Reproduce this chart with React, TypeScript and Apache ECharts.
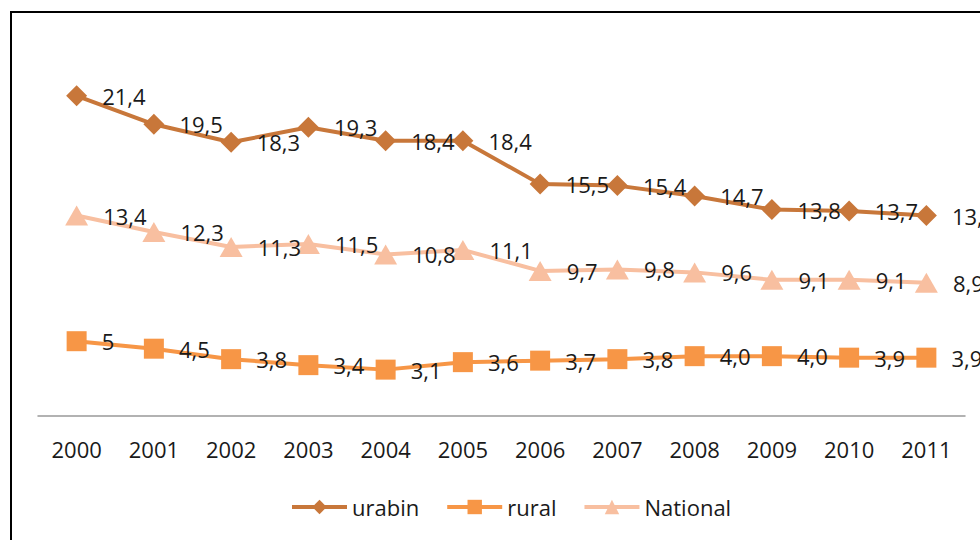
import React, { useEffect, useRef } from "react";
import * as echarts from "echarts";

const years = ["2000", "2001", "2002", "2003", "2004", "2005", "2006", "2007", "2008", "2009", "2010", "2011"];
const urbanValues = [21.4, 19.5, 18.3, 19.3, 18.4, 18.4, 15.5, 15.4, 14.7, 13.8, 13.7, 13.4];
const ruralValues = [5, 4.5, 3.8, 3.4, 3.1, 3.6, 3.7, 3.8, 4.0, 4.0, 3.9, 3.9];
const nationalValues = [13.4, 12.3, 11.3, 11.5, 10.8, 11.1, 9.7, 9.8, 9.6, 9.1, 9.1, 8.9];
const urbanLabels = ["21,4", "19,5", "18,3", "19,3", "18,4", "18,4", "15,5", "15,4", "14,7", "13,8", "13,7", "13,4"];
const ruralLabels = ["5", "4,5", "3,8", "3,4", "3,1", "3,6", "3,7", "3,8", "4,0", "4,0", "3,9", "3,9"];
const nationalLabels = ["13,4", "12,3", "11,3", "11,5", "10,8", "11,1", "9,7", "9,8", "9,6", "9,1", "9,1", "8,9"];

const FONT = "'Open Sans', 'Noto Sans', sans-serif";

function makeSeries(name: string, values: number[], labels: string[], color: string, symbol: string, size: any) {
  return {
    name,
    type: "line",
    data: values,
    symbol,
    symbolSize: size,
    lineStyle: { color, width: 4 },
    itemStyle: { color },
    label: {
      show: true,
      position: "right",
      distance: 15,
      color: "#1a1a1a",
      fontFamily: FONT,
      fontSize: 22,
      formatter: (p: any) => labels[p.dataIndex],
    },
  };
}

export default function App() {
  const ref = useRef<HTMLDivElement>(null);
  useEffect(() => {
    if (!ref.current) return;
    const chart = echarts.init(ref.current, null, { renderer: "svg" });
    chart.setOption({
      animation: false,
      backgroundColor: "#fff",
      textStyle: { fontFamily: FONT },
      graphic: [
        {
          type: "rect",
          shape: { x: 11, y: 12, width: 1000, height: 600 },
          style: { fill: "none", stroke: "#000", lineWidth: 2 },
          silent: true,
        },
      ],
      grid: { left: 38, right: 15, top: 42, bottom: 124 },
      xAxis: {
        type: "category",
        data: years,
        boundaryGap: true,
        axisLine: { lineStyle: { color: "#999999", width: 1.5 } },
        axisTick: { show: false },
        axisLabel: { color: "#1a1a1a", fontSize: 22, fontFamily: FONT, margin: 22 },
      },
      yAxis: {
        type: "value",
        min: 0,
        max: 25,
        show: false,
        splitLine: { show: false },
      },
      legend: {
        left: 285,
        top: 491,
        itemWidth: 55,
        itemHeight: 18,
        itemGap: 26,
        lineStyle: { width: 4 },
        textStyle: { color: "#1a1a1a", fontSize: 22, fontFamily: FONT },
        data: ["urabin", "rural", "National"],
      },
      series: [
        makeSeries("urabin", urbanValues, urbanLabels, "#C8773A", "diamond", 21),
        makeSeries("rural", ruralValues, ruralLabels, "#F79646", "rect", 20),
        makeSeries("National", nationalValues, nationalLabels, "#F8BFA0", "triangle", [23, 20]),
      ],
    });
    return () => chart.dispose();
  }, []);
  return <div ref={ref} style={{ position: "fixed", left: 0, top: 0, width: 980, height: 540 }} />;
}
